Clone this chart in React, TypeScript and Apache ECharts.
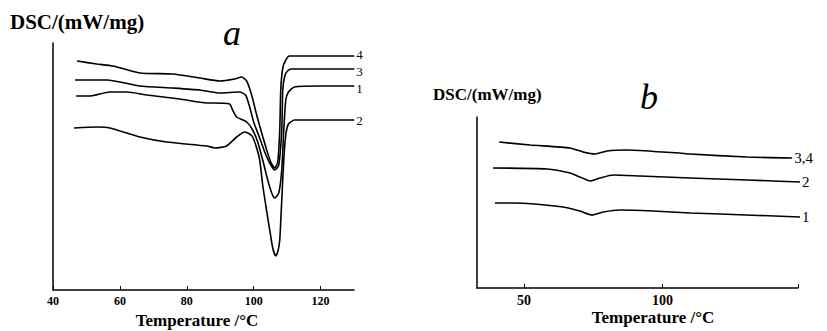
import React, { useEffect, useRef } from "react";
import * as echarts from "echarts";

// Panel a: DSC curves (temperature °C, DSC arbitrary units)
const A_CURVE_4: [number, number][] = [
  [47.2, 22.9], [53.1, 22.6], [57.9, 22.4], [66.0, 21.7], [75.8, 21.6], [83.9, 21.2],
  [89.9, 20.9], [94.3, 21.1], [96.4, 21.3], [97.9, 20.9], [99.4, 19.5], [100.9, 17.5],
  [102.4, 15.7], [103.9, 14.0], [105.1, 12.8], [106.3, 12.2], [107.2, 12.8], [107.8, 16.0],
  [108.1, 20.0], [108.7, 22.2], [109.6, 23.0], [110.7, 23.4], [119.7, 23.4], [130.1, 23.4],
];
const A_CURVE_3: [number, number][] = [
  [46.6, 21.0], [56.1, 21.0], [66.0, 20.4], [75.8, 20.2], [83.9, 20.0], [89.9, 19.7],
  [95.8, 19.8], [97.6, 19.5], [98.8, 18.3], [100.0, 16.8], [101.8, 15.2], [103.3, 13.8],
  [104.8, 12.7], [106.3, 12.0], [107.5, 12.5], [108.4, 16.0], [108.7, 20.0], [109.3, 21.4],
  [110.1, 21.9], [111.3, 22.1], [119.7, 22.1], [130.1, 22.1],
];
const A_CURVE_1: [number, number][] = [
  [46.9, 19.4], [51.0, 19.4], [57.0, 19.8], [62.1, 19.8], [68.1, 19.5], [77.9, 19.1],
  [86.0, 18.7], [87.8, 18.7], [92.8, 18.6], [93.7, 18.0], [94.9, 17.3], [97.9, 16.8],
  [99.7, 16.0], [101.2, 14.8], [102.7, 13.0], [104.2, 11.0], [105.4, 9.7], [106.3, 9.2],
  [107.5, 9.7], [108.4, 12.0], [109.0, 16.0], [109.6, 19.0], [110.4, 19.8], [112.2, 20.3],
  [119.7, 20.4], [130.1, 20.4],
];
const A_CURVE_2: [number, number][] = [
  [46.3, 16.2], [53.1, 16.3], [57.0, 16.2], [66.0, 15.3], [74.0, 14.8], [86.0, 14.4],
  [88.4, 14.2], [91.9, 14.4], [94.9, 15.3], [97.3, 15.8], [98.8, 15.6], [99.7, 15.3],
  [100.9, 14.2], [101.8, 13.0], [102.7, 10.5], [103.6, 8.5], [104.8, 6.0], [105.7, 4.2],
  [106.6, 3.4], [107.2, 3.8], [107.8, 5.0], [108.4, 9.0], [109.0, 13.0], [109.6, 15.5],
  [110.4, 16.6], [112.2, 17.0], [119.7, 17.0], [130.1, 17.0],
];

// Panel b
const B_CURVE_34: [number, number][] = [
  [41.0, 14.6], [52.2, 14.3], [66.6, 14.0], [71.3, 13.6], [75.7, 13.4], [80.0, 13.7],
  [87.2, 13.8], [100.1, 13.6], [106.2, 13.5], [110.0, 13.4], [130.6, 13.1], [146.9, 13.0],
];
const B_CURVE_2: [number, number][] = [
  [38.8, 12.0], [58.3, 11.9], [66.6, 11.5], [70.2, 11.1], [73.9, 10.7], [77.5, 11.0],
  [82.2, 11.3], [91.9, 11.2], [110.0, 11.0], [130.6, 10.8], [150.0, 10.6],
];
const B_CURVE_1: [number, number][] = [
  [39.5, 8.5], [46.0, 8.5], [64.1, 8.1], [70.2, 7.7], [74.6, 7.3], [78.6, 7.6],
  [84.7, 7.8], [96.6, 7.7], [110.0, 7.5], [120.8, 7.4], [150.0, 7.1],
];

const A_TICKS = [40, 60, 80, 100, 120];
const B_LABELS = [50, 100];
const B_TICKS = [50, 100, 149];

const SERIF = "'Liberation Serif', 'DejaVu Serif', serif";

function line(name: string, data: [number, number][], idx: number, dy = 0, size = 15) {
  return {
    type: "line",
    name,
    data,
    xAxisIndex: idx,
    yAxisIndex: idx,
    showSymbol: false,
    symbol: "none",
    clip: false,
    smooth: 0.2,
    lineStyle: { color: "#000", width: 1.6 },
    endLabel: {
      show: true,
      formatter: "{a}",
      distance: 2,
      offset: [0, dy],
      color: "#000",
      fontFamily: SERIF,
      fontSize: size,
    },
  };
}

export default function App() {
  const ref = useRef<HTMLDivElement>(null);
  useEffect(() => {
    if (!ref.current) return;
    const chart = echarts.init(ref.current, undefined, { renderer: "svg" });
    const axisLine = { show: true, lineStyle: { color: "#000", width: 1.5 } };
    chart.setOption({
      animation: false,
      backgroundColor: "#fff",
      grid: [
        { left: 53, top: 43, width: 301, height: 247 },
        { left: 477, top: 117, width: 321, height: 171 },
      ],
      xAxis: [
        {
          type: "value",
          gridIndex: 0,
          min: 40,
          max: 130,
          interval: 20,
          axisLine,
          axisTick: { show: true, inside: true, length: 4, customValues: A_TICKS, lineStyle: { color: "#000" } },
          axisLabel: {
            customValues: A_TICKS,
            color: "#000",
            fontFamily: SERIF,
            fontWeight: "bold",
            fontSize: 12,
            margin: 5,
          },
          splitLine: { show: false },
        },
        {
          type: "value",
          gridIndex: 1,
          min: 33,
          max: 149,
          axisLine,
          axisTick: { show: true, inside: true, length: 4, customValues: B_TICKS, lineStyle: { color: "#000" } },
          axisLabel: {
            customValues: B_LABELS,
            color: "#000",
            fontFamily: SERIF,
            fontWeight: "bold",
            fontSize: 14,
            margin: 5,
          },
          splitLine: { show: false },
        },
      ],
      yAxis: [
        {
          type: "value",
          gridIndex: 0,
          min: 0,
          max: 24.7,
          axisLine,
          axisTick: { show: false },
          axisLabel: { show: false },
          splitLine: { show: false },
        },
        {
          type: "value",
          gridIndex: 1,
          min: 0,
          max: 17.1,
          axisLine,
          axisTick: { show: false },
          axisLabel: { show: false },
          splitLine: { show: false },
        },
      ],
      series: [
        line("4", A_CURVE_4, 0, -2, 13),
        line("3", A_CURVE_3, 0, 2, 13),
        line("1", A_CURVE_1, 0, 2, 13),
        line("2", A_CURVE_2, 0, 0, 13),
        line("3,4", B_CURVE_34, 1, 0, 15),
        line("2", B_CURVE_2, 1, 0, 15),
        line("1", B_CURVE_1, 1, 0, 15),
      ],
      graphic: [
        {
          type: "text",
          left: 10,
          top: 11,
          style: { text: "DSC/(mW/mg)", font: `bold 21px ${SERIF}`, fill: "#000" },
        },
        {
          type: "text",
          x: 232,
          y: 33,
          style: { text: "a", font: `italic 36px ${SERIF}`, fill: "#000", align: "center", verticalAlign: "middle" },
        },
        {
          type: "text",
          x: 197,
          y: 320,
          style: { text: "Temperature /°C", font: `bold 17px ${SERIF}`, fill: "#000", align: "center", verticalAlign: "middle" },
        },
        {
          type: "text",
          x: 433,
          y: 94,
          style: { text: "DSC/(mW/mg)", font: `bold 17px ${SERIF}`, fill: "#000", align: "left", verticalAlign: "middle" },
        },
        {
          type: "text",
          x: 649,
          y: 97,
          style: { text: "b", font: `italic 36px ${SERIF}`, fill: "#000", align: "center", verticalAlign: "middle" },
        },
        {
          type: "text",
          x: 653,
          y: 317,
          style: { text: "Temperature /°C", font: `bold 17px ${SERIF}`, fill: "#000", align: "center", verticalAlign: "middle" },
        },
      ],
    });
    return () => chart.dispose();
  }, []);
  return (
    <div
      ref={ref}
      style={{ position: "absolute", left: 0, top: 0, width: 827, height: 331 }}
    />
  );
}
